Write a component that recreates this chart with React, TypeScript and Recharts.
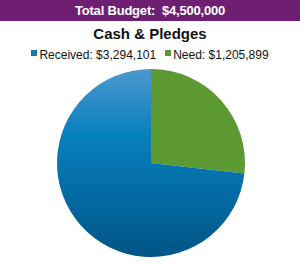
import { PieChart, Pie, Cell } from "recharts";

const labels = ["Need", "Received"];
const amounts = [1205899, 3294101];
const legendOrder = ["Received", "Need"];
const totalBudget = 4500000;

const COLORS: Record<string, string> = {
  Received: "url(#blueGrad)",
  Need: "#5d9932",
};
const SWATCH: Record<string, string> = {
  Received: "#1e74ad",
  Need: "#5d9932",
};

const data = labels.map((name, i) => ({ name, value: amounts[i] }));

const money = (v: number) => "$" + v.toLocaleString("en-US");

export default function App() {
  return (
    <div
      style={{
        position: "fixed",
        left: 0,
        top: 0,
        width: 300,
        height: 266,
        background: "#fff",
        fontFamily: "'Liberation Sans', Arial, sans-serif",
      }}
    >
      <div
        style={{
          height: 21,
          background: "#6e1f72",
          color: "#fff",
          fontWeight: "bold",
          fontSize: 13,
          lineHeight: "21px",
          textAlign: "center",
          whiteSpace: "pre",
          letterSpacing: -0.2,
        }}
      >
        {"Total Budget:  " + money(totalBudget)}
      </div>
      <div style={{ position: "absolute", top: 0, left: 0 }}>
        <PieChart width={300} height={266} margin={{ top: 0, right: 0, bottom: 0, left: 0 }}>
          <defs>
            <linearGradient id="blueGrad" x1="0" y1="0" x2="0" y2="1">
              <stop offset="0%" stopColor="#4d98cf" />
              <stop offset="35%" stopColor="#0780be" />
              <stop offset="100%" stopColor="#005586" />
            </linearGradient>
          </defs>
          <Pie
            data={data}
            dataKey="value"
            nameKey="name"
            cx={151}
            cy={163}
            outerRadius={94}
            startAngle={90}
            endAngle={-270}
            stroke="none"
            isAnimationActive={false}
          >
            {data.map((d) => (
              <Cell key={d.name} fill={COLORS[d.name]} />
            ))}
          </Pie>
        </PieChart>
      </div>
      <div
        style={{
          position: "absolute",
          top: 24,
          width: 300,
          textAlign: "center",
          fontWeight: "bold",
          fontSize: 15,
          color: "#111",
          lineHeight: "20px",
        }}
      >
        Cash &amp; Pledges
      </div>
      <div
        style={{
          position: "absolute",
          top: 47,
          width: 300,
          textAlign: "center",
          fontSize: 12,
          color: "#111",
          whiteSpace: "nowrap",
          lineHeight: "16px",
        }}
      >
        {legendOrder.map((name) => {
          const v = amounts[labels.indexOf(name)];
          return (
            <span key={name} style={{ marginRight: name === "Received" ? 9 : 0 }}>
              <span
                style={{
                  display: "inline-block",
                  width: 6,
                  height: 6,
                  background: SWATCH[name],
                  marginRight: 2,
                  verticalAlign: 3,
                }}
              />
              {name}: {money(v)}
            </span>
          );
        })}
      </div>
    </div>
  );
}
